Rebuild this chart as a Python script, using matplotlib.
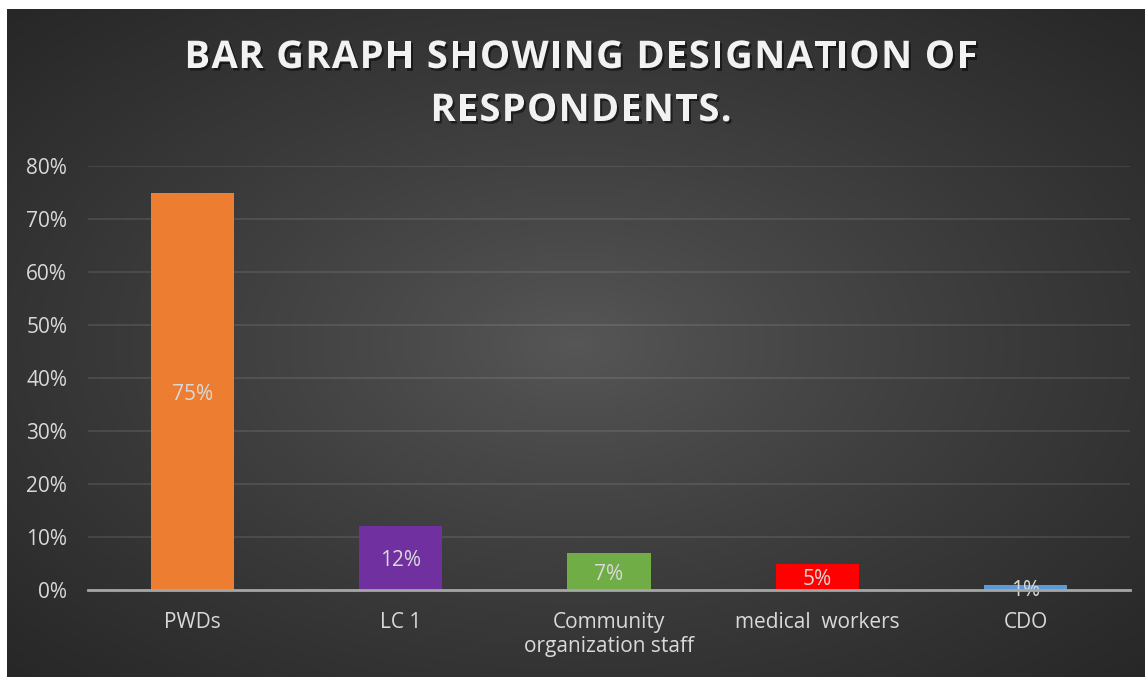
import numpy as np
import matplotlib
matplotlib.use("Agg")
from matplotlib import pyplot as plt
from matplotlib import patheffects as pe

categories = ['PWDs', 'LC 1', 'Community\norganization staff', 'medical  workers', 'CDO']
values = [0.75, 0.12, 0.07, 0.05, 0.01]
bar_colors = ['#ED7D31', '#7030A0', '#70AD47', '#FF0000', '#5B9BD5']
yticks = [0, 0.1, 0.2, 0.3, 0.4, 0.5, 0.6, 0.7, 0.8]
ytick_labels = ['0%', '10%', '20%', '30%', '40%', '50%', '60%', '70%', '80%']
title_lines = ['BAR GRAPH SHOWING DESIGNATION OF', 'RESPONDENTS.']

plt.rcParams['font.family'] = ['Open Sans', 'DejaVu Sans']

W, H = 1145, 677
fig = plt.figure(figsize=(W / 100, H / 100), dpi=100, facecolor='white')

# radial gradient background
bg = fig.add_axes([7 / W, 0, 1 - 7 / W, 1 - 9 / H])
bg.set_axis_off()
yy, xx = np.mgrid[0:400, 0:700]
cx, cy = 0.5 * 700, 0.5 * 400
r = np.sqrt(((xx - cx) / 700) ** 2 + ((yy - cy) / 400) ** 2) / 0.707
r = np.clip(r, 0, 1)
lo, hi = 0x57 / 255, 0x27 / 255
g = lo + (hi - lo) * r ** 0.85
bg.imshow(np.dstack([g, g, g]), aspect='auto', extent=[0, 1, 0, 1])

ax = fig.add_axes([88 / W, 87 / H, (1130 - 88) / W, (590 - 166) / H])
ax.patch.set_alpha(0)
x = np.arange(len(categories))
bars = ax.bar(x, values, width=0.4, color=bar_colors, zorder=3)
for b, v in zip(bars, values):
    ax.annotate(f'{v*100:.0f}%', (b.get_x() + b.get_width() / 2, v / 2),
                xytext=(0, -2), textcoords='offset points',
                ha='center', va='center', fontsize=15, color='#d9d9d9', zorder=4)

ax.set_xlim(-0.5, len(categories) - 0.5)
ax.set_ylim(0, 0.8)
ax.set_yticks(yticks)
ax.set_yticklabels(ytick_labels)
ax.set_xticks(x)
ax.set_xticklabels(categories)
ax.tick_params(axis='both', length=0, labelsize=15, colors='#d9d9d9')
ax.tick_params(axis='y', pad=15)
ax.tick_params(axis='x', pad=16)
ax.grid(axis='y', color='white', alpha=0.1, linewidth=1.3, zorder=0)
for s in ['top', 'right', 'left']:
    ax.spines[s].set_visible(False)
ax.spines['bottom'].set_color('#a6a6a6')
ax.spines['bottom'].set_linewidth(2)
ax.spines['bottom'].set_zorder(5)

# title with letter spacing
shadow = [pe.withSimplePatchShadow(offset=(1.5, -1.8), shadow_rgbFace='black', alpha=0.5)]
renderer = fig.canvas.get_renderer()
tprops = dict(fontsize=27.5, fontweight='bold')


def text_w(s):
    t = fig.text(0, 0, s, **tprops)
    w = t.get_window_extent(renderer).width
    t.remove()
    return w


bar_w = text_w('|')
for line, yc, target in zip(title_lines, [58, 111], [793, 301]):
    lefts = [text_w(line[:i] + '|') - bar_w if i else 0 for i in range(len(line))]
    full = text_w(line)
    sp = (target - full) / (len(line) - 1)
    x0 = 581 - target / 2
    for i, ch in enumerate(line):
        if ch == ' ':
            continue
        fig.text((x0 + lefts[i] + i * sp) / W, 1 - yc / H, ch, ha='left', va='center',
                 color='#f2f2f2', path_effects=shadow, **tprops)

fig.savefig('out.png', dpi=100, facecolor='white')
